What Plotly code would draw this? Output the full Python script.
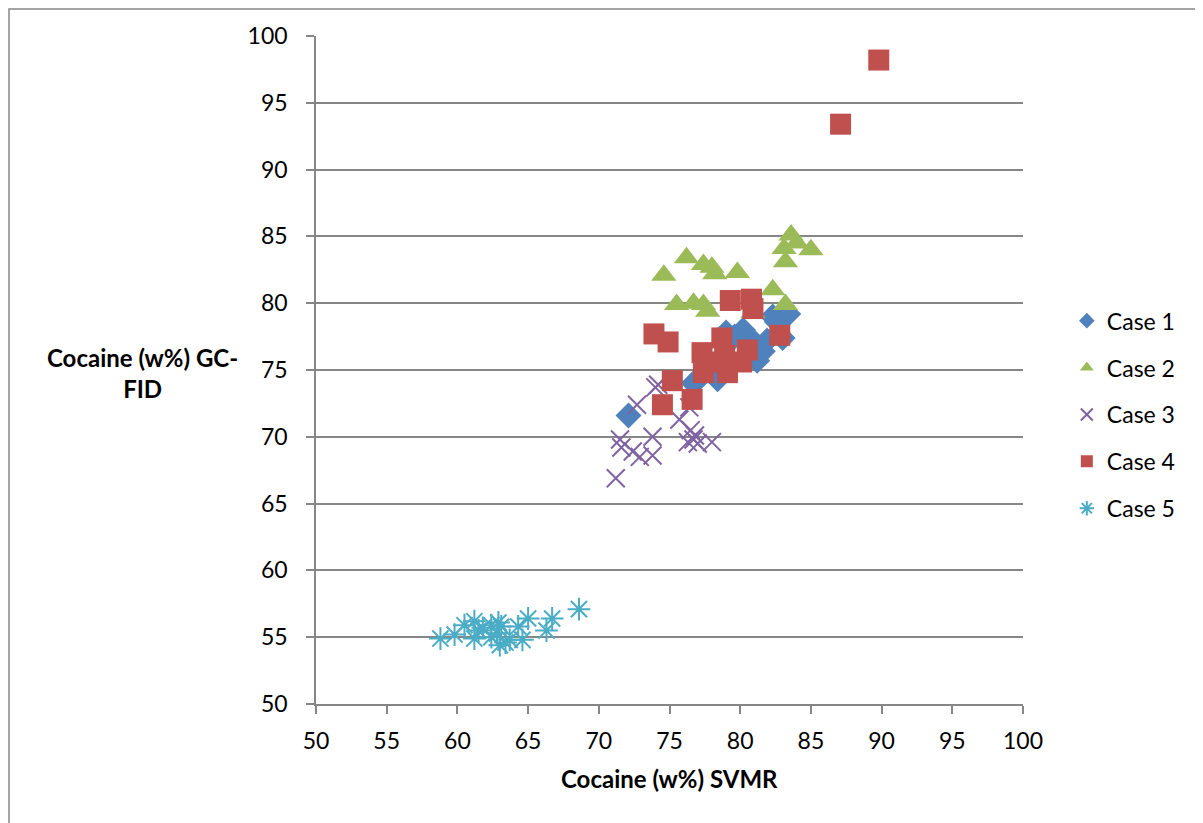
import plotly.graph_objects as go

# Case 1 (blue diamonds)
case1_x = [72.1, 76.7, 77.2, 78.4, 79.0, 79.6, 80.2, 80.5, 81.2, 81.6, 81.9, 82.3, 82.6, 83.0, 83.4]
case1_y = [71.6, 74.0, 74.5, 74.3, 77.8, 77.5, 78.0, 77.6, 75.7, 76.4, 77.2, 79.0, 78.6, 77.4, 79.2]

# Case 2 (green triangles)
case2_x = [74.6, 76.2, 77.4, 78.0, 78.2, 79.8, 75.5, 76.7, 77.4, 77.7, 80.9, 82.3, 83.2, 83.6, 84.0, 83.2, 83.1, 85.0]
case2_y = [82.1, 83.4, 82.9, 82.7, 82.2, 82.3, 79.9, 80.0, 79.9, 79.4, 79.3, 81.0, 79.9, 85.1, 84.5, 83.1, 84.1, 84.0]

# Case 3 (purple crosses)
case3_x = [71.2, 71.5, 71.6, 72.4, 72.9, 73.8, 73.8, 72.7, 74.0, 74.2, 75.7, 76.5, 76.7, 76.8, 77.0, 76.3, 78.0, 76.4]
case3_y = [66.9, 69.8, 69.2, 68.9, 68.5, 70.0, 68.6, 72.4, 73.7, 73.9, 71.3, 70.5, 69.8, 70.1, 69.5, 69.6, 69.6, 72.2]

# Case 4 (red squares)
case4_x = [73.9, 74.9, 79.3, 80.8, 80.9, 82.8, 78.7, 77.3, 78.9, 80.5, 80.1, 77.4, 79.1, 75.2, 78.4, 77.4, 74.5, 76.6, 87.1, 89.8]
case4_y = [77.7, 77.1, 80.2, 80.3, 79.6, 77.6, 77.4, 76.3, 76.1, 76.5, 75.6, 74.8, 74.8, 74.2, 75.6, 75.5, 72.4, 72.8, 93.4, 98.2]

# Case 5 (cyan asterisks)
case5_x = [58.8, 59.8, 60.5, 61.2, 61.5, 61.2, 61.8, 62.4, 62.9, 62.4, 62.8, 63.1, 63.4, 63.0, 63.7, 64.3, 64.6, 65.0, 66.3, 66.7, 68.6]
case5_y = [54.9, 55.2, 55.9, 56.2, 55.5, 54.9, 55.7, 55.9, 56.1, 55.0, 55.3, 55.8, 54.6, 54.4, 54.8, 55.8, 54.8, 56.4, 55.5, 56.4, 57.1]

names = ["Case 1", "Case 2", "Case 3", "Case 4", "Case 5"]
xs = [case1_x, case2_x, case3_x, case4_x, case5_x]
ys = [case1_y, case2_y, case3_y, case4_y, case5_y]
colors = ["#4F81BD", "#9BBB59", "#8064A2", "#C0504D", "#4BACC6"]
symbols = ["diamond", "triangle-up", "x-thin-open", "square", "asterisk-open"]
sizes = [20, 22, 18, 21, 19]

ticks = [50, 55, 60, 65, 70, 75, 80, 85, 90, 95, 100]

FONT = "Lato, Liberation Sans, sans-serif"

fig = go.Figure()
for i in range(5):
    line_w = 2 if symbols[i] in ("x-thin-open", "asterisk-open") else 0
    fig.add_trace(go.Scatter(
        x=xs[i], y=ys[i], mode="markers", name=names[i],
        legendgroup=names[i],
        marker=dict(symbol=symbols[i], size=sizes[i], color=colors[i],
                    line=dict(width=line_w, color=colors[i])),
    ))

axis_common = dict(
    range=[50, 100], tickvals=ticks, ticktext=[str(t) for t in ticks],
    showline=True, linecolor="#868686", linewidth=1.5,
    ticks="outside", ticklen=8, tickcolor="#868686", tickwidth=1.5,
    tickfont=dict(family=FONT, size=23, color="#000000"),
    zeroline=False,
)

fig.update_xaxes(**axis_common, showgrid=False, ticklabelstandoff=8)
fig.update_yaxes(**axis_common, showgrid=True, gridcolor="#868686", gridwidth=1.5,
                 ticklabelstandoff=14)

L, T, PW, PH = 308, 28, 707, 668
W, H = 1195, 815

fig.update_layout(
    width=W, height=H,
    margin=dict(l=L, r=W - L - PW, t=T, b=H - T - PH),
    plot_bgcolor="white", paper_bgcolor="white",
    font=dict(family=FONT, size=23, color="#000000"),
    legend=dict(x=1.062, y=0.606, xanchor="left", yanchor="top",
                font=dict(size=23), tracegroupgap=14, traceorder="grouped",
                itemsizing="constant"),
    annotations=[
        dict(text="<b>Cocaine (w%) SVMR</b>", xref="paper", yref="paper",
             x=0.5007, y=-0.111, xanchor="center", yanchor="middle", showarrow=False,
             font=dict(size=24)),
        dict(text="<b>Cocaine (w%) GC-<br>FID</b>", xref="paper", yref="paper",
             x=-0.246, y=0.4955, xanchor="center", yanchor="middle", showarrow=False,
             font=dict(size=24), align="center"),
    ],
    shapes=[
        dict(type="rect", xref="paper", yref="paper",
             x0=-(L - 1) / PW, x1=1.6, y0=-0.6, y1=1 + (T - 1) / PH,
             line=dict(color="#868686", width=1.5), fillcolor="rgba(0,0,0,0)", layer="below"),
    ],
)

fig.write_html("out.html")
